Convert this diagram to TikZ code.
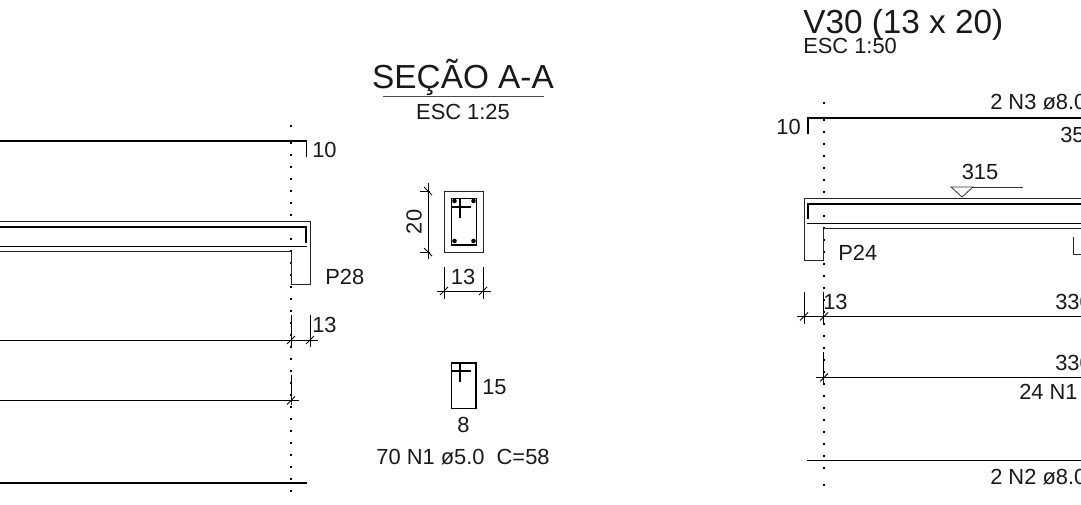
\documentclass[tikz,border=0pt]{standalone}
\usepackage{fontspec}
\setmainfont{Liberation Sans}
\tikzset{
 x=0.75pt,y=-0.75pt,
 bar/.style={line width=1.4pt,black},
 outline/.style={line width=0.65pt,black!85},
 dim/.style={line width=0.55pt,black},
 lbl/.style={inner sep=0pt,font=\fontsize{16.4}{17}\selectfont,text=black!90},
 big/.style={inner sep=0pt,font=\fontsize{25}{26}\selectfont,text=black!90},
 axisdot/.style={line width=1.5pt,black,dash pattern=on 1.3pt off 7.7pt},
 rebar/.style={fill=black}
}
\begin{document}
\begin{tikzpicture}
\useasboundingbox (0,0) rectangle (1081,505);
\clip (0,0) rectangle (1081,505);
% left elevation
\coordinate (la) at (291,125); \coordinate (lb) at (291,142);
\coordinate (lc) at (291,492); \coordinate (ld) at (291,126.6);
\draw[line width=1.5pt] (la) -- (ld);
\draw[axisdot] (lb) -- (lc);
\draw[bar] (0,141.3) -- (306.5,141.3) -- (306.5,157);
\draw[outline] (0,221.5) -- (310.5,221.5) -- (310.5,284) -- (291,284) -- (291,251.5) -- (0,251.5);
\draw[bar] (0,227) -- (306,227) -- (306,243);
\draw[bar] (0,246.5) -- (307,246.5);
\draw[dim] (0,340) -- (318,340);
\draw[dim] (291,315) -- (291,347);
\draw[dim] (310,315) -- (310,347);
\draw[dim] (287,344) -- (295,336);
\draw[dim] (306,344) -- (314,336);
\draw[dim] (0,400.5) -- (299,400.5);
\draw[dim] (291,375) -- (291,405);
\draw[dim] (287,404.5) -- (295,396.5);
\draw[bar] (0,483.3) -- (307,483.3);
\node[lbl,anchor=west] (l10) at (312,149.5) {10};
\node[lbl,anchor=west] (lp28) at (325,277) {P28};
\node[lbl,anchor=west] (l13) at (312,324.5) {13};
% title
\node[big,anchor=base] (t1) at (463,88.5) {SEÇÃO A-A};
\draw[line width=0.7pt,black!70] (383,96) -- (544,96);
\node[lbl,anchor=base] (t2) at (463,120) {ESC 1:25};
% section
\draw[outline] (444,191) rectangle (483,252);
\draw[bar] (451.5,198.5) rectangle (476.5,245);
\draw[line width=0.8pt] (451.5,207) -- (471,207);
\draw[line width=0.8pt] (460,199) -- (460,218);
\fill[rebar] (454.5,201) circle (2.3);
\fill[rebar] (473.5,201) circle (2.3);
\fill[rebar] (454.5,241) circle (2.3);
\fill[rebar] (473.5,241) circle (2.3);
\draw[dim] (428,183) -- (428,259);
\draw[dim] (420,191) -- (430,191);
\draw[dim] (420,252) -- (430,252);
\draw[dim] (424,187) -- (432,195);
\draw[dim] (424,248) -- (432,256);
\node[lbl,rotate=90,anchor=center] (d20) at (414,222) {20};
\draw[dim] (437,291) -- (491,291);
\draw[dim] (444,267) -- (444,299);
\draw[dim] (483,267) -- (483,299);
\draw[dim] (440,295) -- (448,287);
\draw[dim] (479,295) -- (487,287);
\node[lbl,anchor=center] (d13) at (463,277) {13};
% stirrup
\draw[bar] (451.5,363) rectangle (476,408.5);
\draw[line width=0.8pt] (451.5,371) -- (471,371);
\draw[line width=0.8pt] (460,363) -- (460,382);
\node[lbl,anchor=west] (s15) at (482,387) {15};
\node[lbl,anchor=center] (s8) at (463.5,425) {8};
\node[lbl,anchor=center] (s70) at (463,457) {70 N1 ø5.0~ C=58};
% right title
\node[big,anchor=base west] (v1) at (803,34) {V30 (13 x 20)};
\node[lbl,anchor=base west] (v2) at (803,54) {ESC 1:50};
% right elevation
\coordinate (ra) at (824,102); \coordinate (rb) at (824,103.6);
\coordinate (rc) at (824,119); \coordinate (rd) at (824,469);
\coordinate (re) at (824,484); \coordinate (rf) at (824,485.6);
\draw[line width=1.5pt] (ra) -- (rb);
\draw[axisdot] (rc) -- (rd);
\draw[line width=1.5pt] (re) -- (rf);
\draw[bar] (808,134) -- (808,118) -- (1081,118);
\draw[outline] (1081,198) -- (804,198) -- (804,260.5) -- (823,260.5) -- (823,228.5) -- (1081,228.5);
\draw[bar] (808,219) -- (808,204) -- (1081,204);
\draw[bar] (807,223.5) -- (1081,223.5);
\draw[outline] (1073,237) -- (1073,254) -- (1081,254);
\node[lbl,anchor=east] (r10) at (801,127) {10};
\node[lbl,anchor=west] (r2n3) at (990,102) {2 N3 ø8.0};
\node[lbl,anchor=west] (r35) at (1060,135) {35};
\node[lbl,anchor=base] (r315) at (980,180) {315};
\draw[line width=0.6pt,black!80] (951,187) -- (973,187) -- (962,197) -- cycle;
\draw[line width=0.6pt,black!80] (973,187) -- (1023,187);
\node[lbl,anchor=west] (rp24) at (838,253) {P24};
% dims right
\draw[dim] (797,316.5) -- (1081,316.5);
\draw[dim] (804,292) -- (804,324);
\draw[dim] (823,292) -- (823,324);
\draw[dim] (800,320.5) -- (808,312.5);
\draw[dim] (820,320.5) -- (828,312.5);
\node[lbl,anchor=west] (r13) at (823,302) {13};
\node[lbl,anchor=west] (r330a) at (1055,302) {330};
\draw[dim] (816,377.5) -- (1081,377.5);
\draw[dim] (823,352) -- (823,385);
\draw[dim] (820,381.5) -- (828,373.5);
\node[lbl,anchor=west] (r330b) at (1055,363) {330};
\node[lbl,anchor=west] (r24) at (1019,392) {24 N1};
\draw[bar] (807,460.5) -- (1081,460.5);
\node[lbl,anchor=west] (r2n2) at (990,477) {2 N2 ø8.0};
\end{tikzpicture}
\end{document}
